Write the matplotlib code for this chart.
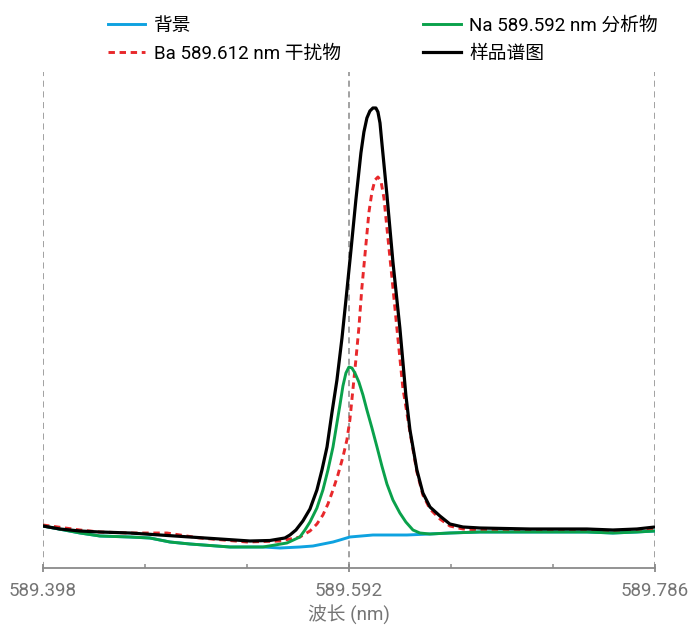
import numpy as np
import matplotlib.pyplot as plt

plt.rcParams['font.family'] = ['Roboto', 'Noto Sans CJK SC', 'DejaVu Sans']

# intensity in arbitrary units, wavelength in nm
bg_wl = [589.3980, 589.4215, 589.4341, 589.4532, 589.4658, 589.4785, 589.4912, 589.5166,
         589.5375, 589.5483, 589.5609, 589.5692, 589.5819, 589.5863, 589.5926, 589.6072,
         589.6288, 589.6434, 589.6560, 589.6751, 589.7067, 589.7429, 589.7594, 589.7746, 589.7860]
bg_int = [42, 35, 32, 31, 30, 26, 24, 21, 21, 20, 21, 22, 26, 28, 31, 33,
          33, 34, 35, 36, 36, 36, 35, 36, 37]

na_wl = [589.3980, 589.4215, 589.4341, 589.4532, 589.4658, 589.4785, 589.4912, 589.5166,
         589.5375, 589.5527, 589.5609, 589.5641, 589.5673, 589.5717, 589.5755, 589.5787,
         589.5819, 589.5844, 589.5863, 589.5882, 589.5901, 589.5920, 589.5939, 589.5958,
         589.5983, 589.6009, 589.6034, 589.6066, 589.6098, 589.6129, 589.6161, 589.6199,
         589.6243, 589.6281, 589.6326, 589.6370, 589.6434, 589.6560, 589.6751, 589.7067,
         589.7429, 589.7594, 589.7746, 589.7860]
na_int = [42, 35, 32, 31, 30, 26, 24, 21, 21, 25, 31, 38, 46, 60, 78, 98,
          121, 145, 163, 182, 195, 201, 200, 195, 186, 173, 158, 140, 121, 102, 84, 68,
          55, 46, 38, 35, 34, 35, 36, 36, 36, 35, 36, 37]

ba_wl = [589.3980, 589.4215, 589.4341, 589.4532, 589.4766, 589.4975, 589.5273, 589.5483,
         589.5609, 589.5673, 589.5717, 589.5755, 589.5787, 589.5819, 589.5850, 589.5882,
         589.5907, 589.5926, 589.5945, 589.5964, 589.5983, 589.6002, 589.6021, 589.6047,
         589.6066, 589.6085, 589.6104, 589.6123, 589.6142, 589.6161, 589.6193, 589.6224,
         589.6262, 589.6307, 589.6351, 589.6389, 589.6434, 589.6497, 589.6560, 589.6643,
         589.6751, 589.7067, 589.7429, 589.7594, 589.7746, 589.7860]
ba_int = [43, 38, 36, 35, 35, 30, 26, 27, 31, 37, 44, 53, 64, 78, 93, 111,
          128, 148, 178, 208, 240, 280, 312, 356, 376, 388, 391, 387, 370, 340, 290, 240,
          180, 136, 96, 73, 59, 49, 42, 39, 38, 37, 37, 36, 37, 39]

sample_wl = [589.3980, 589.4088, 589.4215, 589.4341, 589.4532, 589.4722, 589.4912, 589.5102,
             589.5292, 589.5419, 589.5514, 589.5546, 589.5584, 589.5628, 589.5673, 589.5717,
             589.5749, 589.5781, 589.5812, 589.5844, 589.5876, 589.5901, 589.5933, 589.5964,
             589.5996, 589.6015, 589.6034, 589.6053, 589.6072, 589.6091, 589.6104, 589.6117,
             589.6129, 589.6161, 589.6199, 589.6243, 589.6281, 589.6307, 589.6351, 589.6389,
             589.6434, 589.6497, 589.6560, 589.6643, 589.6751, 589.7067, 589.7429, 589.7594,
             589.7746, 589.7860]
sample_int = [42, 39, 37, 36, 35, 33, 31, 29, 27, 27.5, 30, 33, 38, 47, 59, 78,
              98, 121, 155, 188, 230, 268, 318, 368, 415, 436, 450, 457, 460, 460, 456, 445,
              425, 373, 306, 240, 173, 138, 98, 75, 61, 52, 44, 41, 40, 39, 39, 38,
              39, 41]

major_ticks = [589.398, 589.592, 589.786]
minor_ticks = [589.4627, 589.5273, 589.6567, 589.7213]

fig = plt.figure(figsize=(6.93, 6.25), dpi=100)
ax = fig.add_axes([0.062, 0.0912, 0.883, 0.7936])

ax.plot(bg_wl, bg_int, color='#0ea2e0', lw=2.1, label='背景')
ax.plot(ba_wl, ba_int, color='#e8282b', lw=2.1, ls=(0, (2.2, 1.6)), label='Ba 589.612 nm 干扰物')
ax.plot(na_wl, na_int, color='#0aa14b', lw=2.1, label='Na 589.592 nm 分析物')
ax.plot(sample_wl, sample_int, color='black', lw=2.3, label='样品谱图')

ax.set_xlim(589.398, 589.786)
ax.set_ylim(0, 496)
ax.set_xticks(major_ticks)
ax.set_xticklabels(['589.398', '589.592', '589.786'])
ax.set_xticks(minor_ticks, minor=True)
ax.set_yticks([])
ax.grid(axis='x', which='major', color='#888888', ls=(0, (4, 3)), lw=1.1)
for s in ['top', 'right', 'left']:
    ax.spines[s].set_visible(False)
ax.spines['bottom'].set_color('#8a8a8a')
ax.spines['bottom'].set_linewidth(1.3)
ax.tick_params(axis='x', which='major', direction='inout', length=5.5, width=1.3,
               color='#8a8a8a', labelcolor='#757575', labelsize=13.5, pad=7)
ax.tick_params(axis='x', which='minor', direction='in', length=3, width=1.1, color='#8a8a8a')
ax.set_xlabel('波长 (nm)', color='#757575', fontsize=13.5, labelpad=3)

fig.legend(loc='upper left', bbox_to_anchor=(0.131, 1.0), ncol=2, frameon=False,
           fontsize=13.5, handlelength=2.0, columnspacing=4.4, handletextpad=0.45,
           labelspacing=0.52)

fig.savefig('out.png', dpi=100)
